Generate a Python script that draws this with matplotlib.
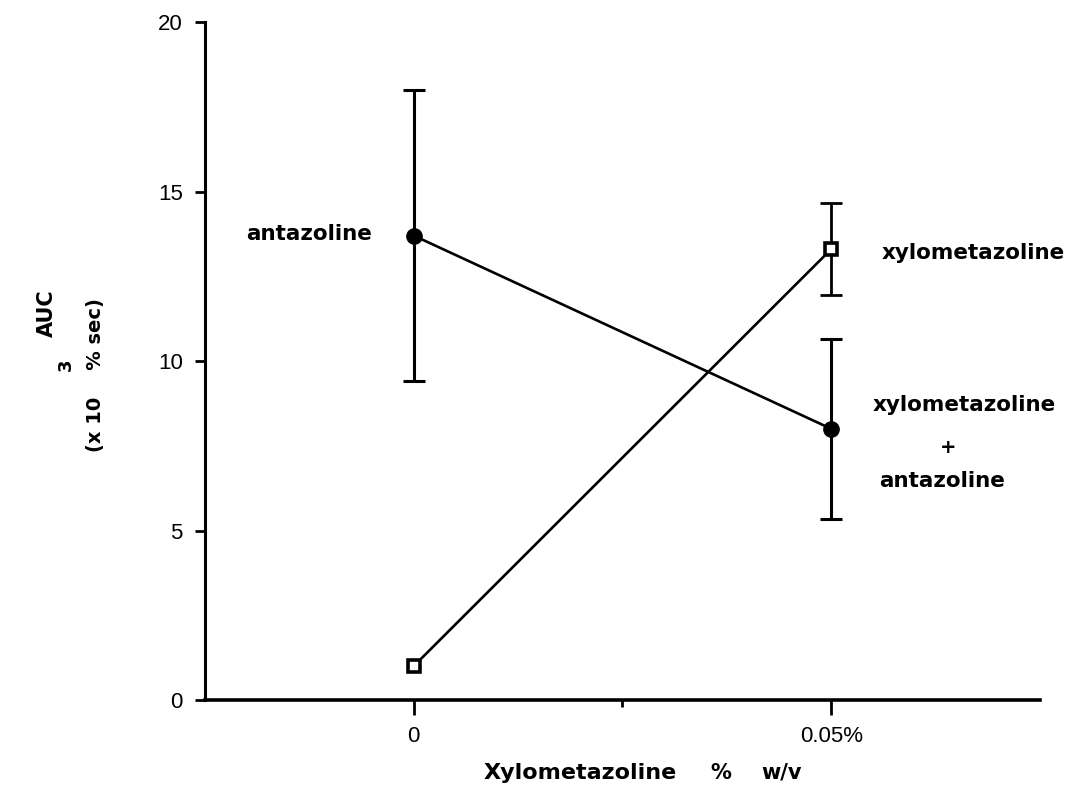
import matplotlib
matplotlib.use("Agg")
import matplotlib.pyplot as plt
from matplotlib.ticker import FixedLocator

# dose positions: 0 = no xylometazoline, 1 = 0.05% w/v
dose = [0, 1]
dose_labels = ["0", "0.05%"]

# AUC (x10^3 % sec), mean and error
xylo_mean = [1.0, 13.3]
xylo_err = [0.0, 1.35]
anta_mean = [13.7, 8.0]
anta_err = [4.3, 2.65]

fig = plt.figure(figsize=(10.77, 7.88), dpi=100)
ax = fig.add_axes([0.1903, 0.1117, 0.7753, 0.8603])

lw = 1.9
ax.errorbar(dose, anta_mean, yerr=anta_err, color="black", lw=lw, elinewidth=2.2,
            capsize=8, capthick=2.2, marker="o", ms=11, mfc="black", mec="black", zorder=3)
ax.plot(dose, xylo_mean, color="black", lw=lw, marker="s", ms=8, mfc="white",
        mec="black", mew=2.6, zorder=4)
# only the 0.05% point has a visible error bar
ax.errorbar(dose[1:], xylo_mean[1:], yerr=xylo_err[1:], fmt="none", ecolor="black",
            elinewidth=2.0, capsize=8, capthick=2.0, zorder=3)

ax.set_xlim(-0.5, 1.5)
ax.set_ylim(0, 20)
ax.spines["top"].set_visible(False)
ax.spines["right"].set_visible(False)
ax.spines["left"].set_linewidth(2.2)
ax.spines["bottom"].set_linewidth(2.6)

ax.set_yticks([0, 5, 10, 15, 20])
ax.set_xticks(dose)
ax.set_xticklabels(dose_labels)
ax.xaxis.set_minor_locator(FixedLocator([0.5]))
ax.tick_params(axis="y", direction="out", length=7, width=2, pad=9, labelsize=16)
ax.tick_params(axis="x", which="major", direction="out", length=11, width=2, pad=8, labelsize=16)
ax.tick_params(axis="x", which="minor", direction="out", length=5, width=2)
for lab in ax.get_xticklabels() + ax.get_yticklabels():
    lab.set_family("Liberation Sans")

# x axis title, words spaced out
xl_y = 1 - 773 / 788
fig.text(580 / 1077, xl_y, "Xylometazoline", ha="center", va="center", fontsize=16, fontweight="bold")
fig.text(721 / 1077, xl_y, "%", ha="center", va="center", fontsize=15, fontweight="bold")
fig.text(782 / 1077, xl_y, "w/v", ha="center", va="center", fontsize=15, fontweight="bold")

# y axis title drawn as three stacked rotated lines
fig.text(47 / 1077, 1 - 313 / 788, "AUC", rotation=90, ha="center", va="center",
         fontsize=15, fontweight="bold")
fig.text(66 / 1077, 1 - 365 / 788, "3", rotation=90, ha="center", va="center",
         fontsize=13, fontweight="bold")
fig.text(95 / 1077, 1 - 375 / 788, "(x 10    % sec)", rotation=90, ha="center", va="center",
         fontsize=14, fontweight="bold")

lab_fs = 15.5
ax.text(-0.1, 13.75, "antazoline", ha="right", va="center", fontsize=lab_fs, fontweight="bold")
ax.text(1.12, 13.2, "xylometazoline", ha="left", va="center", fontsize=lab_fs, fontweight="bold")
ax.text(1.1, 8.7, "xylometazoline", ha="left", va="center", fontsize=lab_fs, fontweight="bold")
ax.text(1.28, 7.45, "+", ha="center", va="center", fontsize=14, fontweight="bold")
ax.text(1.115, 6.45, "antazoline", ha="left", va="center", fontsize=lab_fs, fontweight="bold")

fig.savefig("out.png", dpi=100)
